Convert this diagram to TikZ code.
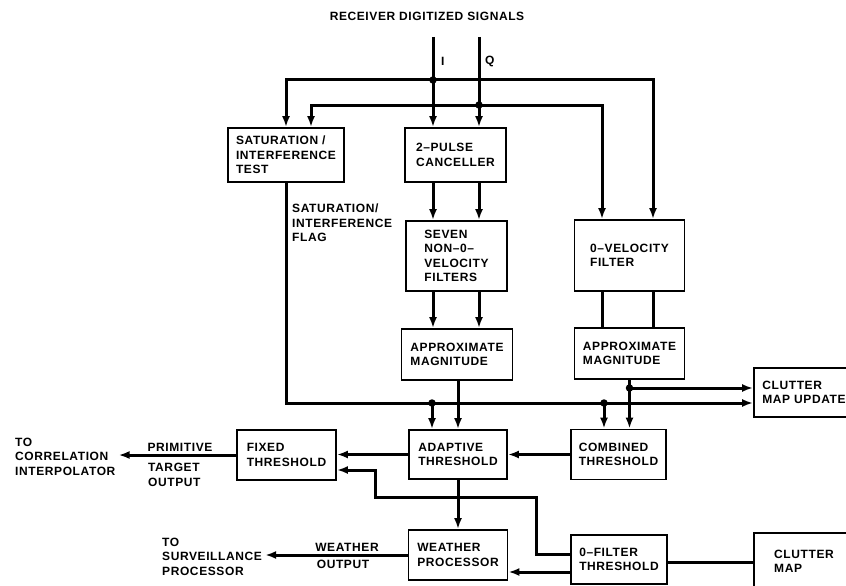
\documentclass[tikz,border=0pt]{standalone}
\usepackage{fontspec}
\setmainfont{Liberation Sans}[LetterSpace=5]
\usetikzlibrary{arrows.meta}

\begin{document}
\begin{tikzpicture}[x=1pt,y=-1pt,
    font=\bfseries\fontsize{12}{14.5}\selectfont,
    blk/.style={draw,line width=1.8pt,align=left,inner sep=2pt},
    lbl/.style={align=left,inner sep=0pt},
    wire/.style={line width=3pt},
    feed/.style={wire,-{Latex[length=11pt,width=8pt]}},
    jdot/.style={circle,fill,inner sep=0pt,minimum size=7.5pt}]
  \useasboundingbox (0,0) rectangle (846,586);

  % blocks
  \node[blk,minimum width=116pt,minimum height=54pt] (sat) at (286,155) {SATURATION /\\INTERFERENCE\\TEST};
  \node[blk,minimum width=101pt,minimum height=54pt] (pulse) at (455.5,155) {2–PULSE\\CANCELLER};
  \node[blk,minimum width=101pt,minimum height=70pt] (seven) at (456.5,256) {SEVEN\\NON–0–\\VELOCITY\\FILTERS};
  \node[blk,minimum width=111pt,minimum height=51pt] (mag1) at (457,354.5) {APPROXIMATE\\MAGNITUDE};
  \node[blk,minimum width=110pt,minimum height=71pt] (zero) at (629.5,255.5) {0–VELOCITY\\FILTER};
  \node[blk,minimum width=110pt,minimum height=51pt] (mag2) at (629.5,353.5) {APPROXIMATE\\MAGNITUDE};
  \node[blk,minimum width=100pt,minimum height=49pt] (update) at (804,392.5) {CLUTTER\\MAP UPDATE};
  \node[blk,minimum width=98pt,minimum height=49pt] (adapt) at (458,454.5) {ADAPTIVE\\THRESHOLD};
  \node[blk,minimum width=95pt,minimum height=50pt] (comb) at (618.5,454.5) {COMBINED\\THRESHOLD};
  \node[blk,minimum width=99pt,minimum height=50pt] (fixed) at (286.5,455) {FIXED\\THRESHOLD};
  \node[blk,minimum width=99pt,minimum height=50pt] (weather) at (458,555) {WEATHER\\PROCESSOR};
  \node[blk,minimum width=96pt,minimum height=49pt] (zfilt) at (619,559.5) {0–FILTER\\THRESHOLD};
  \node[blk,minimum width=100pt,minimum height=57pt] (cmap) at (804,561.5) {CLUTTER\\MAP};

  % labels
  \node[lbl] (title) at (427,16) {RECEIVER DIGITIZED SIGNALS};
  \node[lbl,anchor=west] (ilab) at (441,61) {I};
  \node[lbl,anchor=west] (qlab) at (485,61) {Q};
  \node[lbl,anchor=north west] (flaglab) at (292,204) {SATURATION/\\INTERFERENCE\\FLAG};
  \node[lbl,anchor=south] (prim) at (180,452) {PRIMITIVE};
  \node[lbl,anchor=north west] (tgt) at (148,463) {TARGET\\OUTPUT};
  \node[lbl,anchor=south] (wx) at (347,552) {WEATHER};
  \node[lbl,anchor=north] (wxo) at (343,560) {OUTPUT};
  \node[lbl,anchor=west,inner sep=3pt] (corr) at (12,456.5) {TO\\CORRELATION\\INTERPOLATOR};
  \node[lbl,anchor=west,inner sep=3pt] (surv) at (159,556.5) {TO\\SURVEILLANCE\\PROCESSOR};

  % bus points
  \coordinate (iin) at (433,37);
  \coordinate (qin) at (479,37);
  \coordinate (iw) at (286,80);
  \coordinate (ie) at (653,80);
  \coordinate (qw) at (311,105);
  \coordinate (qe) at (602,105);
  \coordinate (fl) at (286,403);
  \coordinate (r1) at (536,497);
  \coordinate (r2) at (375,470);
  \node[jdot] (ibus) at (433,80) {};
  \node[jdot] (qbus) at (479,105) {};
  \node[jdot] (fa) at (432,403) {};
  \node[jdot] (fc) at (604,403) {};
  \node[jdot] (mo) at (629.5,388) {};

  \begin{scope}[feed]
    \draw (iin) -- (iin |- pulse.north);
    \draw (qin) -- (qin |- pulse.north);
    \draw (ibus.center) -- (iw) -- (iw |- sat.north);
    \draw (ibus.center) -- (ie) -- (ie |- zero.north);
    \draw (qbus.center) -- (qw) -- (qw |- sat.north);
    \draw (qbus.center) -- (qe) -- (qe |- zero.north);
    \draw (iin |- pulse.south) -- (iin |- seven.north);
    \draw (qin |- pulse.south) -- (qin |- seven.north);
    \draw (iin |- seven.south) -- (iin |- mag1.north);
    \draw (qin |- seven.south) -- (qin |- mag1.north);
    \draw (sat.south) -- (fl) -- (fl -| update.west);
    \draw (fa.center) -- (fa |- adapt.north);
    \draw (fc.center) -- (fc |- comb.north);
    \draw (mag1.south -| adapt.north) -- (adapt.north);
    \draw (mag2.south) -- (mag2.south |- comb.north);
    \draw (mo.center) -- (mo -| update.west);
    \draw (comb.west) -- (comb.west -| adapt.east);
    \draw (adapt.west) -- (adapt.west -| fixed.east);
    \draw (fixed.west) -- (fixed.west -| corr.east);
    \draw (adapt.south) -- (adapt.south |- weather.north);
    \draw ([yshift=5.5pt]zfilt.west) -| (r1) -| (r2) -- (r2 -| fixed.east);
    \draw ([yshift=-12.5pt]zfilt.west) -- ([yshift=-12.5pt]zfilt.west -| weather.east);
    \draw (weather.west) -- (weather.west -| surv.east);
  \end{scope}
  \begin{scope}[wire]
    \draw (qe |- zero.south) -- (qe |- mag2.north);
    \draw (ie |- zero.south) -- (ie |- mag2.north);
    \draw ([yshift=-2.5pt]zfilt.east) -- ([yshift=-2.5pt]zfilt.east -| cmap.west);
  \end{scope}
\end{tikzpicture}
\end{document}
